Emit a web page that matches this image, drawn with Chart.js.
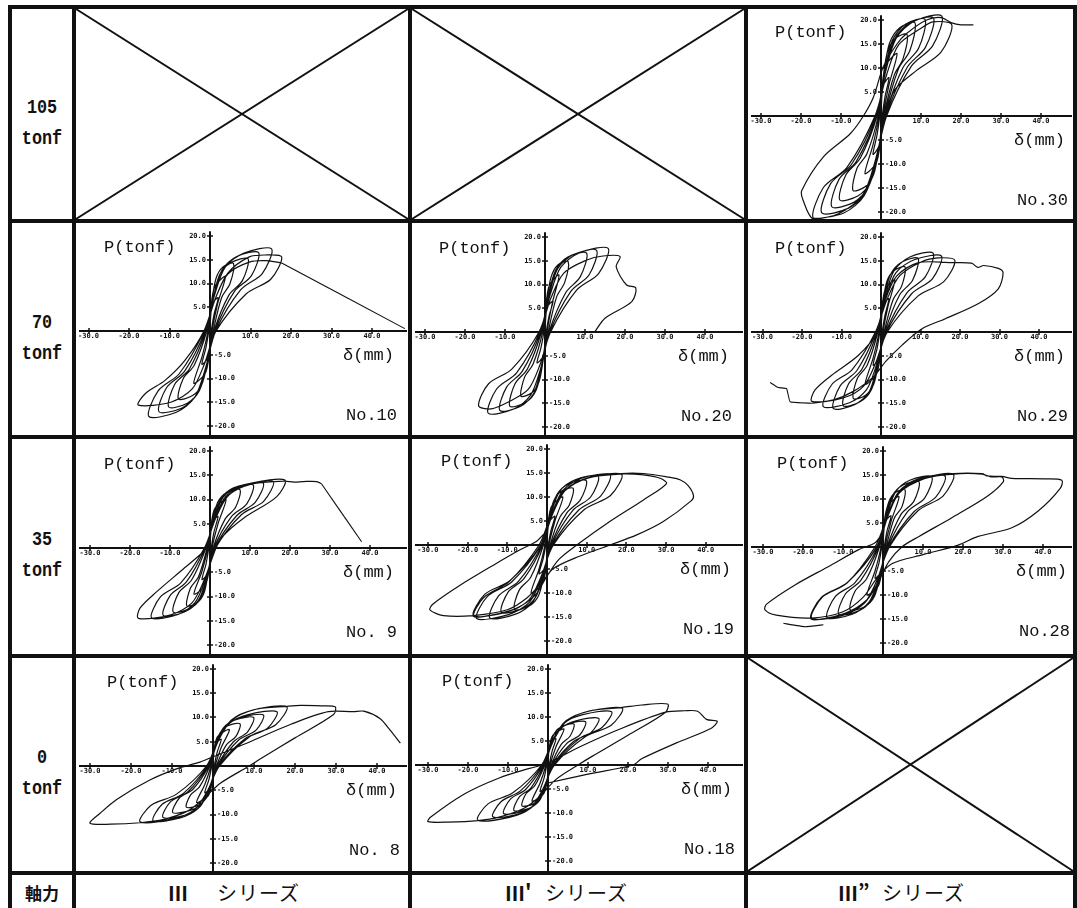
<!DOCTYPE html>
<html lang="ja">
<head>
<meta charset="utf-8">
<title>P-δ hysteresis curves</title>
<script src="https://cdn.jsdelivr.net/npm/chart.js@4.4.1/dist/chart.umd.min.js"></script>
<style>
  body { margin: 0; background: #fff; }
  #sheet { position: relative; width: 1077px; height: 908px; overflow: hidden; background: #fff; }
  .rule { position: absolute; background: #111; }
  .axial { position: absolute; left: 12px; width: 60px; text-align: center; color: #111;
           font: bold 21px/31px "Liberation Mono", monospace; transform: scaleX(0.8); }
  .foot { position: absolute; top: 877px; height: 31px; color: #111; white-space: nowrap;
          font: 20px/31px "Noto Sans CJK JP", sans-serif; letter-spacing: 1px; }
  .foot.num { font-weight: bold; letter-spacing: 0; }
  canvas.plot { position: absolute; }
  svg { position: absolute; left: 0; top: 0; }
</style>
</head>
<body>
<div id="sheet">
  <svg id="crosses" width="1077" height="908"></svg>
</div>
<script>
// tick values on the two axes
const dispTicks = [-30, -20, -10, 10, 20, 30, 40];
const loadTicks = [20, 15, 10, 5, -5, -10, -15, -20];

// [displacement mm, load tonf]
const no30 = [[0,0],
  [0.5,6.2],[2,8],[1,4],[0.3,0],[-0.5,-6.2],[-2,-8],[-1,-4],[-0.3,0],
  [1,10.1],[4,13],[2,6.5],[0.5,0],[-1,-9.4],[-4,-12],[-2,-6],[-0.5,0],
  [0.5,7.7],[1.6,13.3],[3.6,16.2],[6.5,17],[5.5,11.9],[3.3,8.5],[0.7,0],[-0.6,-7],[-1.8,-12.1],[-3.9,-14.7],[-7,-15.5],[-6,-10.9],[-3.5,-7.8],[-0.7,0],
  [0.7,8.7],[2.1,15.1],[4.7,18.4],[8.5,19.4],[7.2,13.6],[4.3,9.7],[0.9,0],[-0.8,-7.9],[-2.6,-13.7],[-5.7,-16.6],[-10.3,-17.5],[-8.8,-12.3],[-5.2,-8.8],[-1,0],
  [0.9,9],[2.8,15.7],[6.1,19.1],[11,20.1],[9.4,14.1],[5.5,10.1],[1,0],[-1,-8.5],[-3.1,-14.7],[-6.8,-18],[-12.3,-18.9],[-10.5,-13.2],[-6.2,-9.5],[-1.1,0],
  [1,9.2],[3.3,15.9],[7.2,19.4],[13.1,20.4],[11.1,14.3],[6.6,10.2],[1.2,0],[-1.2,-9.1],[-3.7,-15.8],[-8.1,-19.2],[-14.8,-20.2],[-12.6,-14.1],[-7.4,-10.1],[-1.3,0],
  [1.2,9.4],[3.8,16.2],[8.4,19.8],[15.2,20.8],[12.9,14.6],[7.6,10.4],[1.4,0],[-1.4,-9.6],[-4.2,-16.6],[-9.3,-20.2],[-16.9,-21.3],[-14.4,-14.9],[-8.5,-10.7],[-1.5,0],
  [1.4,8.6],[4.4,14.8],[9.7,18.1],[13,19.6],[17.7,19],[15,13.3],[8.9,9.5],[3.4,5.4],[1.2,0],[-1.5,-9.5],[-4.6,-16.5],[-10.5,-20.3],[-16.9,-21.5],[-19.5,-17.5],[-19.8,-15.5],[-14.4,-8.5],[-7.7,-3.7],[-4.4,0],
  [-1.9,3.9],[0.6,10.3],[4,15],[6.4,17.2],[11.4,20],[15,20.5],[17.7,19.4],[20,19],[23.1,19]];

const no10 = [[0,0],
  [0.5,5.5],[2,7],[1,3.5],[0.3,0],[-0.5,-5.5],[-2,-7],[-1,-3.5],[-0.3,0],
  [1,9],[3.8,11.5],[1.9,5.8],[0.5,0],[-1,-8.6],[-4,-11],[-2,-5.5],[-0.5,0],
  [0.5,6.4],[1.5,11.1],[3.2,13.5],[5.8,14.2],[4.9,9.9],[2.9,7.1],[0.8,0],[-0.6,-6.4],[-2,-11.2],[-4.3,-13.6],[-7.8,-14.3],[-6.6,-10],[-3.9,-7.2],[-0.8,0],
  [0.8,6.8],[2.4,11.9],[5.2,14.4],[9.4,15.2],[8,10.6],[4.7,7.6],[1,0],[-0.8,-7.2],[-2.6,-12.5],[-5.6,-15.2],[-10.2,-16],[-8.7,-11.2],[-5.1,-8],[-1,0],
  [1,7.4],[3,12.9],[6.6,15.7],[12,16.5],[10.2,11.6],[6,8.3],[1.2,0],[-1,-7.7],[-3.2,-13.3],[-6.9,-16.2],[-12.6,-17],[-10.7,-11.9],[-6.3,-8.5],[-1.2,0],
  [1.2,7.8],[3.8,13.5],[8.4,16.4],[15.2,17.3],[12.9,12.1],[7.6,8.7],[1.4,0],[-1.2,-8.1],[-3.8,-14],[-8.3,-17.1],[-15.1,-18],[-12.8,-12.6],[-7.6,-9],[-1.4,0],
  [1.4,7],[4.4,12.2],[9.7,15.6],[13.5,16],[17.7,15.6],[15,10.9],[8.9,7.8],[1.5,0],[-1.4,-7],[-4.4,-12.2],[-9.7,-15],[-17.7,-15.6],[-16,-13.2],[-11.1,-10.4],[-6.2,-6.2],[-1.5,0],
  [1.4,7],[4.4,12],[9.7,14.5],[14,14.8],[17.7,14.3]];
const no10Tail = [[17.7,14.3],[48.1,0.5]];

const no20 = [[0,0],
  [0.5,5.1],[2,6.5],[1,3.3],[0.3,0],[-0.5,-5.1],[-2,-6.5],[-1,-3.3],[-0.3,0],
  [0.9,9.4],[3.5,12],[1.8,6],[0.5,0],[-0.5,-6.1],[-1.5,-10.5],[-3.3,-12.8],[-6,-13.5],[-5.1,-9.5],[-3,-6.8],[-0.6,0],
  [0.5,6.7],[1.5,11.5],[3.2,14.1],[5.8,14.8],[4.9,10.4],[2.9,7.4],[0.8,0],[-0.7,-7],[-2.2,-12.2],[-4.8,-14.8],[-8.8,-15.6],[-7.5,-10.9],[-4.4,-7.8],[-0.9,0],
  [0.8,7.5],[2.6,12.9],[5.7,15.8],[10.4,16.6],[8.8,11.6],[5.2,8.3],[1,0],[-0.9,-7.4],[-2.8,-12.9],[-6.2,-15.7],[-11.3,-16.5],[-9.6,-11.6],[-5.7,-8.3],[-1.1,0],
  [1,7.7],[3.2,13.4],[7.1,16.3],[12.9,17.2],[11,12],[6.5,8.6],[1.2,0],[-1.1,-7.7],[-3.6,-13.3],[-7.8,-16.2],[-14.2,-17.1],[-12.1,-12],[-7.1,-8.6],[-1.3,0],
  [1.3,7.9],[4,13.7],[8.7,16.7],[15.8,17.6],[13.4,12.3],[7.9,8.8],[1.4,0],[-1.3,-7],[-4.2,-12.1],[-9.1,-14.7],[-13.5,-16.2],[-16.6,-15.5],[-14.1,-10.9],[-8.3,-7.8],[-1.5,0],
  [1.5,7.2],[4.7,12.4],[10.3,15.1],[14.5,16],[18.75,15.9],[17.8,13.7],[20.4,9.9],[22.7,9.3],[21.7,6.4],[15,2.9],[12.5,0.1]];

const no29 = [[0,0],
  [0.5,5.5],[2,7],[1,3.5],[0.3,0],[-0.5,-5.5],[-2,-7],[-1,-3.5],[-0.3,0],
  [0.9,8.6],[3.5,11],[1.8,5.5],[0.5,0],[-1,-8.6],[-4,-11],[-2,-5.5],[-0.5,0],
  [0.5,6.2],[1.5,10.7],[3.4,13],[6.1,13.7],[5.2,9.6],[3.1,6.9],[0.8,0],[-0.6,-6.3],[-1.8,-10.9],[-3.9,-13.3],[-7,-14],[-6,-9.8],[-3.5,-7],[-0.8,0],
  [0.8,7],[2.4,12.1],[5.2,14.7],[9.4,15.5],[8,10.9],[4.7,7.8],[1,0],[-0.8,-7],[-2.4,-12.1],[-5.3,-14.7],[-9.6,-15.5],[-8.2,-10.9],[-4.8,-7.8],[-1,0],
  [1.1,7.5],[3.3,12.9],[7.3,15.8],[13.2,16.6],[11.2,11.6],[6.6,8.3],[1.2,0],[-1,-7.2],[-3,-12.6],[-6.7,-15.3],[-12.1,-16.1],[-10.3,-11.3],[-6.1,-8.1],[-1.2,0],
  [1.2,7.2],[3.8,12.5],[8.4,15.2],[15.3,16],[13,11.2],[7.7,8],[1.4,0],[-1.2,-7.1],[-3.7,-12.2],[-8,-14.9],[-14.6,-15.7],[-12.4,-11],[-7.3,-7.9],[-1.4,0],
  [1.5,6.8],[4.7,11.8],[10.3,14.8],[14.5,15.6],[18.7,15.1],[15.9,10.6],[9.4,7.6],[1.6,0],[-1.4,-6.6],[-4.4,-11.4],[-9.6,-13.9],[-17.5,-14.6],[-16.7,-12.2],[-12.5,-9.1],[-5.7,-4.9],[-1,0],
  [1,6.5],[4,11.8],[9.5,14.6],[17.8,14.6],[22.9,14.5],[24.5,13.6],[26,14],[29.7,13.4],[30.9,12.5],[29.7,9.1],[24.7,6],[16.3,2.8],[10.4,0.7],[5.4,-2.7],[1.2,-6.2],[-2,-9.5],[-7,-12.5],[-12,-14.3],[-17.5,-15]];
const no29Tail = [[-17.5,-15],[-23,-14.7],[-23.9,-11.9],[-26,-11.7],[-28.1,-10.6]];

const no9 = [[0,0],
  [0.5,5.1],[2,6.5],[1,3.3],[0.3,0],[-0.5,-5.1],[-2,-6.5],[-1,-3.3],[-0.3,0],
  [1,7.8],[4,10],[2,5],[0.5,0],[-1,-7.4],[-4,-9.5],[-2,-4.8],[-0.5,0],
  [0.6,5.4],[1.9,9.4],[4.1,11.4],[7.5,12],[6.4,8.4],[3.8,6],[0.8,0],[-0.5,-5.4],[-1.5,-9.3],[-3.2,-11.3],[-5.8,-11.9],[-4.9,-8.3],[-2.9,-6],[-0.7,0],
  [0.9,5.9],[2.7,10.1],[5.9,12.4],[10.8,13],[9.2,9.1],[5.4,6.5],[1,0],[-0.7,-5.9],[-2.3,-10.3],[-5.1,-12.5],[-9.2,-13.2],[-7.8,-9.2],[-4.6,-6.6],[-1,0],
  [1.1,6],[3.3,10.5],[7.3,12.7],[13.3,13.4],[11.3,9.4],[6.7,6.7],[1.2,0],[-0.9,-6.3],[-2.9,-10.8],[-6.4,-13.2],[-11.7,-13.9],[-9.9,-9.7],[-5.9,-7],[-1.2,0],
  [1.3,6.2],[4,10.7],[8.7,13],[15.8,13.7],[13.4,9.6],[7.9,6.9],[1.4,0],[-1.2,-6.5],[-3.7,-11.2],[-8,-13.7],[-14.6,-14.4],[-12.4,-10.1],[-7.3,-7.2],[-1.4,0],
  [1.5,6.3],[4.7,10.9],[10.3,13.3],[18.75,14],[16.7,10.6],[8.3,6.1],[3.3,2.5],[1.5,0],[-1.4,-6.5],[-4.5,-11.3],[-9.8,-13.8],[-17.9,-14.5],[-17.5,-12.4],[-13.3,-9],[-7.5,-4.9],[-2.5,-1.4],[-1,0],
  [1,6],[4.5,10.8],[10.5,13.2],[18.5,13.8],[21,13.6],[23.3,13.7],[26.7,13.7],[27.9,13.2]];
const no9Tail = [[27.9,13.2],[37.9,1.3]];

const no19 = [[0,0],
  [0.5,4.7],[2,6],[1,3],[0.3,0],[-0.5,-4.7],[-2,-6],[-1,-3],[-0.3,0],
  [1,7.8],[4,10],[2,5],[0.5,0],[-1,-7.8],[-4,-10],[-2,-5],[-0.5,0],
  [0.5,5.3],[1.7,9.2],[3.6,11.2],[6.6,11.8],[5.6,8.3],[3.3,5.9],[0.8,0],[-0.7,-6],[-2.1,-10.5],[-4.5,-12.7],[-8.2,-13.4],[-7,-9.4],[-4.1,-6.7],[-0.9,0],
  [0.8,6],[2.5,10.5],[5.4,12.7],[9.9,13.4],[8.4,9.4],[5,6.7],[1,0],[-0.9,-6.3],[-2.9,-10.9],[-6.3,-13.3],[-11.5,-14],[-9.8,-9.8],[-5.8,-7],[-1.1,0],
  [1,6.4],[3.2,11.2],[7.1,13.6],[12.9,14.3],[11,10],[6.5,7.2],[1.2,0],[-1.2,-6.8],[-3.6,-11.9],[-7.9,-14.4],[-14.4,-15.2],[-12.2,-10.6],[-7.2,-7.6],[-1.3,0],
  [1.3,6.6],[4,11.4],[8.7,13.9],[15.9,14.6],[13.5,10.2],[8,7.3],[1.4,0],[-1.4,-6.9],[-4.4,-11.9],[-9.7,-14.5],[-17.7,-15.3],[-15,-10.7],[-8.9,-7.7],[-1.5,0],
  [1.5,6.6],[4.7,11.5],[10.3,14],[18.8,14.7],[16,10.3],[9.4,7.4],[1.6,0],[-1.5,-6.6],[-4.6,-11.5],[-10.2,-14],[-18.5,-14.7],[-15.7,-10.3],[-9.3,-7.4],[-1.6,0],
  [1.2,6.5],[4.5,11.3],[10.5,14],[18.8,14.8],[24.3,14.6],[28.5,13.9],[30.1,12.8],[24.3,9.4],[16,5],[7.5,0],[3,-3],[0,-6.5],[-3,-10.5],[-8,-13.3],[-14,-14.6],[-18.5,-14.9],[-16,-11],[-9.5,-7.6],[-2,0],
  [0.5,5],[4,11],[10.5,14],[18.8,14.9],[24.3,14.9],[30.2,14.2],[33.5,13.6],[35.5,12.4],[36.9,10.3],[36.3,9.2],[29.3,4.9],[22.6,2.1],[15.9,0],[8,-2.4],[1.6,-4.9],[-1,-7.5],[-5,-11],[-10,-13.5],[-18.5,-14.7],[-26.1,-14.7],[-29.5,-13.5],[-28.7,-12.3],[-21.9,-8.4],[-13.5,-4.2],[-6.8,-1],[-2.6,0.8],[-0.9,2.2]];

const no28 = [[0,0],
  [0.5,5.1],[2,6.5],[1,3.3],[0.3,0],[-0.5,-5.1],[-2,-6.5],[-1,-3.3],[-0.3,0],
  [1,8.2],[4,10.5],[2,5.3],[0.5,0],[-1,-7.8],[-4,-10],[-2,-5],[-0.5,0],
  [0.4,5.4],[1.4,9.3],[3,11.3],[5.5,11.9],[4.7,8.3],[2.8,6],[0.8,0],[-0.7,-5.9],[-2.1,-10.2],[-4.5,-12.4],[-8.2,-13.1],[-7,-9.2],[-4.1,-6.6],[-0.9,0],
  [0.7,6.1],[2.3,10.6],[5,12.9],[9,13.6],[7.7,9.5],[4.5,6.8],[1,0],[-0.9,-6.3],[-2.8,-10.9],[-6.1,-13.3],[-11.1,-14],[-9.4,-9.8],[-5.6,-7],[-1.1,0],
  [1,6.6],[3.1,11.4],[6.7,13.9],[12.2,14.6],[10.4,10.2],[6.1,7.3],[1.2,0],[-1.1,-6.6],[-3.5,-11.5],[-7.7,-14],[-14,-14.7],[-11.9,-10.3],[-7,-7.4],[-1.3,0],
  [1.2,6.7],[3.9,11.5],[8.5,14.1],[15.5,14.8],[13.2,10.4],[7.8,7.4],[1.4,0],[-1.4,-6.7],[-4.5,-11.5],[-9.8,-14.1],[-17.8,-14.8],[-15.1,-10.4],[-8.9,-7.4],[-1.5,0],
  [1.4,6.8],[4.4,11.8],[9.7,14.3],[17.6,15.1],[15,10.6],[8.8,7.6],[1.6,0],[-1.4,-6.7],[-4.5,-11.6],[-9.9,-14.2],[-18,-14.9],[-15.3,-10.4],[-9,-7.5],[-1.6,0],
  [1.2,6.6],[4.4,11.6],[10.5,14.3],[17.6,15.2],[24.8,15.2],[27,14.6],[29.7,14.6],[30.1,13.6],[26,10.5],[17,6],[9,2.2],[4.7,0],[1.5,-3],[-1,-7],[-4,-11],[-9.5,-13.8],[-18,-15],[-15.3,-10.5],[-9,-7.5],[-2,0],
  [0.5,5],[4,11.2],[10.5,14.3],[17.6,15.3],[24.8,15.3],[26,14.8],[29.7,14.7],[32.2,14.3],[40.5,14.2],[44.7,13.9],[44.3,12.2],[38.8,7.5],[32.2,4],[23.8,2.2],[18.8,0.4],[10,-1.6],[2.2,-3.5],[-1.5,-6.5],[-5,-10.5],[-10,-13.5],[-17.8,-14.8],[-26.7,-14.2],[-29.5,-13.1],[-29.1,-11.9],[-22,-7.9],[-13.7,-4.1],[-6.2,-0.6],[-2,0.9],[0,3]];
const no28Tail = [[-14.9,-16.2],[-19.5,-16.6],[-24.9,-15.9]];

const no8 = [[0,0],
  [0.5,4.3],[2,5.5],[1,2.8],[0.3,0],[-0.5,-4.3],[-2,-5.5],[-1,-2.8],[-0.3,0],
  [1,5.9],[4,7.5],[2,3.8],[0.5,0],[-1,-5.9],[-4,-7.5],[-2,-3.8],[-0.5,0],
  [0.5,3.9],[1.7,6.8],[3.6,8.3],[6.6,8.7],[5.6,6.1],[3.3,4.4],[0.8,0],[-0.5,-3.8],[-1.6,-6.6],[-3.6,-8.1],[-6.5,-8.5],[-5.5,-6],[-3.3,-4.3],[-0.8,0],
  [0.8,4.5],[2.5,7.8],[5.4,9.5],[9.9,10],[8.4,7],[5,5],[1,0],[-0.8,-4.3],[-2.5,-7.5],[-5.4,-9.1],[-9.8,-9.6],[-8.3,-6.7],[-4.9,-4.8],[-1,0],
  [1,4.7],[3.1,8.2],[6.8,10],[12.3,10.5],[10.5,7.4],[6.2,5.3],[1.2,0],[-1,-4.8],[-3.1,-8.3],[-6.7,-10.1],[-12.2,-10.6],[-10.4,-7.4],[-6.1,-5.3],[-1.2,0],
  [1.2,5],[3.9,8.7],[8.6,10.6],[15.6,11.2],[13.3,7.8],[7.8,5.6],[1.4,0],[-1.2,-5.1],[-3.7,-8.8],[-8,-10.7],[-14.6,-11.3],[-12.4,-7.9],[-7.3,-5.7],[-1.4,0],
  [1.4,5.5],[4.5,9.5],[9.9,11.6],[18,12.2],[15.3,8.5],[9,6.1],[1.6,0],[-1.4,-5.2],[-4.5,-9],[-9.8,-10.9],[-17.8,-11.5],[-15.1,-8.1],[-8.9,-5.8],[-1.6,0],
  [1.2,5.3],[4.5,9.4],[10.5,11.7],[18,12.3],[21.4,12.5],[26.3,12.4],[29.8,12.2],[29.4,10.6],[20,5.8],[12,1.7],[8.8,0],[1.7,-3.6],[-2,-6.5],[-6,-9.2],[-12,-11],[-17.8,-11.7],[-25,-12],[-30,-11.8],[-27.6,-9.8],[-23.5,-6.9],[-15.4,-2.9],[-8.9,-0.6],[-3.2,0.8],[0,1.9],[8.2,4.7],[19,8.6],[28.1,11.2],[34.2,11.2],[36.8,11.3],[40.7,9.8],[43.2,7.4],[45.7,4.7]];

const no18 = [[0,0],
  [0.5,4.3],[2,5.5],[1,2.8],[0.3,0],[-0.5,-4.3],[-2,-5.5],[-1,-2.8],[-0.3,0],
  [1,5.9],[4,7.5],[2,3.8],[0.5,0],[-1,-5.9],[-4,-7.5],[-2,-3.8],[-0.5,0],
  [0.5,3.8],[1.6,6.6],[3.6,8.1],[6.5,8.5],[5.5,6],[3.3,4.3],[0.8,0],[-0.5,-3.8],[-1.6,-6.6],[-3.6,-8.1],[-6.5,-8.5],[-5.5,-6],[-3.3,-4.3],[-0.8,0],
  [0.8,4.1],[2.4,7],[5.2,8.6],[9.4,9],[8,6.3],[4.7,4.5],[1,0],[-0.7,-4.3],[-2.1,-7.4],[-4.7,-9],[-8.5,-9.5],[-7.2,-6.7],[-4.3,-4.8],[-1,0],
  [1,4.4],[3.2,7.6],[7,9.2],[12.7,9.7],[10.8,6.8],[6.4,4.9],[1.2,0],[-0.9,-4.5],[-2.8,-7.9],[-6.1,-9.6],[-11.1,-10.1],[-9.4,-7.1],[-5.6,-5.1],[-1.2,0],
  [1.3,5],[4,8.7],[8.7,10.5],[15.9,11.1],[13.5,7.8],[8,5.6],[1.4,0],[-1.1,-4.9],[-3.5,-8.4],[-7.6,-10.3],[-13.8,-10.8],[-11.7,-7.6],[-6.9,-5.4],[-1.4,0],
  [1.5,5.3],[4.7,9.2],[10.2,11.2],[18.6,11.8],[15.8,8.3],[9.3,5.9],[1.6,0],[-1.4,-5.2],[-4.4,-9],[-9.7,-10.9],[-17.6,-11.5],[-15,-8.1],[-8.8,-5.8],[-1.6,0],
  [1.2,5.2],[4.5,9.2],[10.5,11.3],[18.6,12],[23.4,12.5],[29.9,12.7],[29.4,11],[20,6.2],[11,1.8],[7.5,0],[2,-3],[-2,-6.5],[-6,-9],[-12,-10.8],[-17.6,-11.6],[-25,-11.9],[-30,-11.8],[-29.4,-10.9],[-20.8,-6],[-12.2,-2.7],[-4.6,-0.7],[-0.3,0.3],[8,3.8],[18,7.5],[29.4,11],[34.2,11.3],[37.4,11.2],[39.6,9.5],[42.3,9.1],[40.7,7.6],[32.1,4.6],[23.4,1.3],[21.3,0],[10,-1.9],[-0.3,-3.8]];

// sheet layout (pixels)
const colBox = [[76, 332], [412, 332], [748, 325]];
const rowBox = [[9, 210], [223, 212], [439, 215], [658, 213]];
const vRules = [[8, 4], [72, 4], [408, 4], [744, 4], [1073, 4]];
const hRules = [[5, 4], [219, 4], [435, 4], [654, 4], [871, 4]];
const crossed = [[0, 0], [1, 0], [2, 3]];
const axialLoads = ['105', '70', '35', '0'];

const panels = [
  { name: 'No.30', col: 2, row: 0, origin: [881, 116], sx: 4.0,  sy: 4.8,  path: no30 },
  { name: 'No.10', col: 0, row: 1, origin: [210, 331], sx: 4.05, sy: 4.75, path: no10, tail: no10Tail },
  { name: 'No.20', col: 1, row: 1, origin: [545, 332], sx: 4.0,  sy: 4.75, path: no20 },
  { name: 'No.29', col: 2, row: 1, origin: [881, 332], sx: 3.95, sy: 4.75, path: no29, tail: no29Tail },
  { name: 'No. 9', col: 0, row: 2, origin: [210, 548], sx: 4.0,  sy: 4.85, path: no9, tail: no9Tail },
  { name: 'No.19', col: 1, row: 2, origin: [547, 545], sx: 3.97, sy: 4.8,  path: no19 },
  { name: 'No.28', col: 2, row: 2, origin: [883, 547], sx: 4.0,  sy: 4.8,  path: no28, tail: no28Tail },
  { name: 'No. 8', col: 0, row: 3, origin: [213, 766], sx: 4.1,  sy: 4.85, path: no8 },
  { name: 'No.18', col: 1, row: 3, origin: [548, 765], sx: 4.0,  sy: 4.8,  path: no18 }
];

const sheet = document.getElementById('sheet');

function addDiv(cls, css, html) {
  const d = document.createElement('div');
  d.className = cls;
  Object.assign(d.style, css);
  if (html) d.innerHTML = html;
  sheet.appendChild(d);
  return d;
}

vRules.forEach(([l, w]) => addDiv('rule', { left: l + 'px', width: w + 'px', top: '5px', height: '903px' }));
hRules.forEach(([t, h]) => addDiv('rule', { left: '8px', width: '1069px', top: t + 'px', height: h + 'px' }));

// crossed-out (no specimen) cells
const svg = document.getElementById('crosses');
crossed.forEach(([c, r]) => {
  const [x, w] = colBox[c], [y, h] = rowBox[r];
  [[x, y, x + w, y + h], [x, y + h, x + w, y]].forEach(([x1, y1, x2, y2]) => {
    const ln = document.createElementNS('http://www.w3.org/2000/svg', 'line');
    ln.setAttribute('x1', x1); ln.setAttribute('y1', y1);
    ln.setAttribute('x2', x2); ln.setAttribute('y2', y2);
    ln.setAttribute('stroke', '#111'); ln.setAttribute('stroke-width', '2');
    svg.appendChild(ln);
  });
});

// axial load labels, left column
axialLoads.forEach((v, i) => {
  const [y, h] = rowBox[i];
  const mid = y + h / 2;
  addDiv('axial', { top: (mid - 7 - 15.5) + 'px' }, v + '<br>tonf');
});

// bottom row: 軸力 and series names
addDiv('foot', { left: '25px', fontWeight: 'bold', fontSize: '17px', letterSpacing: '0' }, '軸力');
addDiv('foot num', { left: '168px' }, 'Ⅲ');
addDiv('foot', { left: '217px' }, 'シリーズ');
addDiv('foot num', { left: '505px' }, 'Ⅲ\'');
addDiv('foot', { left: '545px' }, 'シリーズ');
addDiv('foot num', { left: '838px' }, 'Ⅲ”');
addDiv('foot', { left: '882px' }, 'シリーズ');

// axes through the origin, tick marks and labels, drawn from the chart scales
const hystAxes = {
  id: 'hystAxes',
  beforeDatasetsDraw(chart) {
    const { ctx, chartArea: a, scales: { x, y } } = chart;
    const x0 = Math.round(x.getPixelForValue(0)), y0 = Math.round(y.getPixelForValue(0));
    ctx.save();
    ctx.strokeStyle = '#111';
    ctx.lineWidth = 2;
    ctx.beginPath();
    ctx.moveTo(a.left + 3, y0); ctx.lineTo(a.right - 1, y0);
    ctx.moveTo(x0, y.getPixelForValue(21)); ctx.lineTo(x0, a.bottom);
    ctx.stroke();

    ctx.lineWidth = 1.5;
    ctx.fillStyle = '#111';
    ctx.font = 'bold 7px "DejaVu Sans Mono", monospace';
    ctx.beginPath();
    dispTicks.forEach(v => {
      const px = Math.round(x.getPixelForValue(v));
      ctx.moveTo(px, y0 - 3); ctx.lineTo(px, y0 + 3);
    });
    loadTicks.forEach(v => {
      const py = Math.round(y.getPixelForValue(v));
      ctx.moveTo(x0 - 3, py); ctx.lineTo(x0 + 3, py);
    });
    ctx.stroke();

    ctx.textAlign = 'center';
    ctx.textBaseline = 'top';
    dispTicks.forEach(v => ctx.fillText(v.toFixed(1), x.getPixelForValue(v), y0 + 2));
    ctx.textBaseline = 'middle';
    loadTicks.forEach(v => {
      const py = y.getPixelForValue(v);
      if (v > 0) { ctx.textAlign = 'right'; ctx.fillText(v.toFixed(1), x0 - 4, py); }
      else { ctx.textAlign = 'left'; ctx.fillText(v.toFixed(1), x0 + 4, py); }
    });
    ctx.restore();
  },
  afterDatasetsDraw(chart, args, opts) {
    const { ctx, scales: { x, y } } = chart;
    const x0 = x.getPixelForValue(0), y0 = y.getPixelForValue(0);
    ctx.save();
    ctx.fillStyle = '#111';
    ctx.font = '17px "Liberation Mono", monospace';
    ctx.textBaseline = 'middle';
    ctx.textAlign = 'left';
    ctx.fillText('P(tonf)', x0 - 106, y0 - 84);
    ctx.textAlign = 'right';
    ctx.fillText('δ(mm)', x0 + 184, y0 + 24);
    ctx.fillText(opts.name, x0 + 187, y0 + 84);
    ctx.restore();
  }
};

const toPts = arr => arr.map(([d, p]) => ({ x: d, y: p }));

panels.forEach(pn => {
  const [left, w] = colBox[pn.col], [top, h] = rowBox[pn.row];
  const cv = document.createElement('canvas');
  cv.className = 'plot';
  cv.width = w; cv.height = h;
  cv.style.left = left + 'px'; cv.style.top = top + 'px';
  sheet.appendChild(cv);

  const [ox, oy] = pn.origin;
  const datasets = [{
    data: toPts(pn.path), showLine: true, tension: 0.3,
    borderColor: '#111', borderWidth: 1.2, pointRadius: 0
  }];
  if (pn.tail) datasets.push({
    data: toPts(pn.tail), showLine: true, tension: 0.1,
    borderColor: '#111', borderWidth: 1.1, pointRadius: 0
  });

  new Chart(cv, {
    type: 'scatter',
    data: { datasets },
    options: {
      responsive: false,
      animation: false,
      devicePixelRatio: 1,
      events: [],
      layout: { padding: 0 },
      scales: {
        x: { type: 'linear', display: false, min: (left - ox) / pn.sx, max: (left + w - ox) / pn.sx },
        y: { type: 'linear', display: false, min: (oy - top - h) / pn.sy, max: (oy - top) / pn.sy }
      },
      plugins: {
        legend: { display: false },
        tooltip: { enabled: false },
        hystAxes: { name: pn.name }
      }
    },
    plugins: [hystAxes]
  });
});
</script>
</body>
</html>
